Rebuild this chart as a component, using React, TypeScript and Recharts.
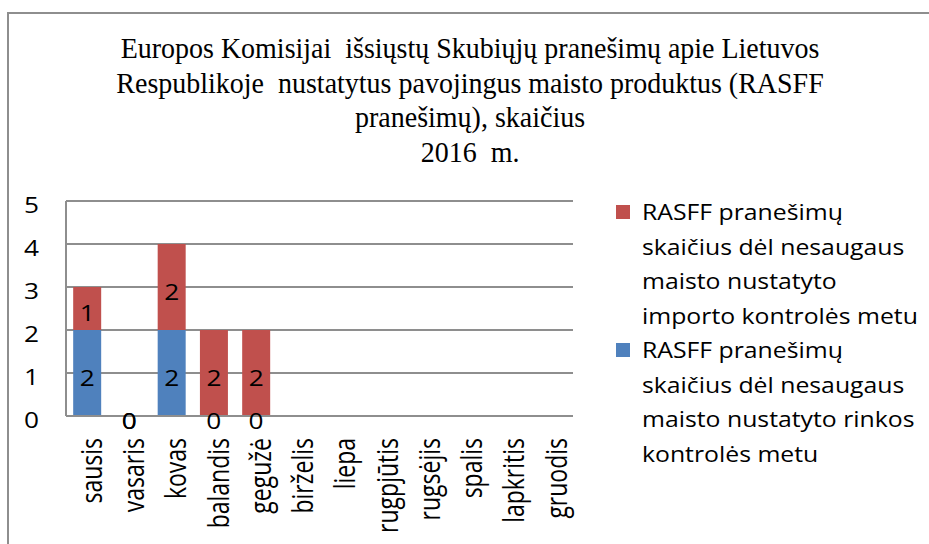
import { ComposedChart, Bar, Line, XAxis, YAxis, CartesianGrid, Legend, LabelList } from 'recharts';

const months = ['sausis', 'vasaris', 'kovas', 'balandis', 'gegužė', 'birželis', 'liepa', 'rugpjūtis', 'rugsėjis', 'spalis', 'lapkritis', 'gruodis'];
const rinkos = [2, 0, 2, 0, 0, null, null, null, null, null, null, null];
const importo = [1, 0, 2, 2, 2, null, null, null, null, null, null, null];
const yTicks = [0, 1, 2, 3, 4, 5];

const titleLines = [
    'Europos Komisijai  išsiųstų Skubiųjų pranešimų apie Lietuvos',
    'Respublikoje  nustatytus pavojingus maisto produktus (RASFF',
    'pranešimų), skaičius',
    '2016  m.',
];

const rinkosName = 'RASFF pranešimų skaičius dėl nesaugaus maisto nustatyto rinkos kontrolės metu';
const importoName = 'RASFF pranešimų skaičius dėl nesaugaus maisto nustatyto importo kontrolės metu';

const legendLines: Record<string, string[]> = {
    [importoName]: ['RASFF pranešimų', 'skaičius dėl nesaugaus', 'maisto nustatyto', 'importo kontrolės metu'],
    [rinkosName]: ['RASFF pranešimų', 'skaičius dėl nesaugaus', 'maisto nustatyto rinkos', 'kontrolės metu'],
};

// zero values have no bar height, so their "0" labels ride on hidden lines
const data = months.map((m, i) => ({
    month: m,
    rinkos: rinkos[i],
    importo: importo[i],
    rinkosZero: rinkos[i] === 0 ? 0 : null,
    importoZero: importo[i] === 0 ? 0 : null,
}));

const FONT = '"Open Sans", sans-serif';
const GRID = '#8e8e8e';

const valueText = (cx: number, cy: number, value: any) => (
    <text
        transform={`translate(${cx},${cy + 5}) scale(1.25,1)`}
        textAnchor="middle"
        dominantBaseline="central"
        fontSize={21}
        fontFamily={FONT}
        fill="#000"
    >
        {value}
    </text>
);

const renderLabel = (props: any) => {
    const { x, y, width, height, value } = props;
    if (value === null || value === undefined || value === 0) return null;
    return valueText(x + width / 2, y + height / 2, value);
};

const renderZero = (props: any) => {
    const { x, y, value } = props;
    if (value === null || value === undefined) return null;
    return valueText(x, y, value);
};

const MonthTick = (props: any) => {
    const { x, y, payload } = props;
    return (
        <text
            transform={`translate(${x + 3},${y}) scale(1.3,1) rotate(-90)`}
            textAnchor="end"
            dominantBaseline="central"
            fontSize={23}
            fontFamily={FONT}
            fill="#000"
        >
            {payload.value}
        </text>
    );
};

const ValueTick = (props: any) => {
    const { x, y, payload } = props;
    return (
        <text
            transform={`translate(${x},${y + 4}) scale(1.25,1)`}
            textAnchor="end"
            dominantBaseline="central"
            fontSize={21}
            fontFamily={FONT}
            fill="#000"
        >
            {payload.value}
        </text>
    );
};

const renderLegend = (props: any) => {
    const items = (props.payload || []).filter((it: any) => legendLines[it.value]);
    return (
        <div style={{ fontFamily: FONT, fontSize: 21, color: '#000' }}>
            {items.map((it: any) => (
                <div key={it.value} style={{ position: 'relative', paddingLeft: 26 }}>
                    <span
                        style={{
                            position: 'absolute',
                            left: 0,
                            top: 10,
                            width: 14,
                            height: 14,
                            background: it.color,
                        }}
                    />
                    <div style={{ transform: 'scaleX(1.18)', transformOrigin: 'left' }}>
                        {legendLines[it.value].map((l) => (
                            <div key={l} style={{ height: 34.5, lineHeight: '34.5px', whiteSpace: 'nowrap' }}>
                                {l}
                            </div>
                        ))}
                    </div>
                </div>
            ))}
        </div>
    );
};

export default function App() {
    return (
        <div style={{ position: 'absolute', left: 0, top: 0, width: 929, height: 544, overflow: 'hidden', background: '#fff' }}>
            <div
                style={{
                    position: 'absolute',
                    left: 7,
                    top: 12,
                    width: 940,
                    height: 560,
                    borderTop: `2px solid ${GRID}`,
                    borderLeft: `2px solid ${GRID}`,
                }}
            />
            <div
                style={{
                    position: 'absolute',
                    left: 0,
                    top: 31,
                    width: 940,
                    textAlign: 'center',
                    fontFamily: '"Liberation Serif", serif',
                    fontSize: 29,
                    color: '#000',
                    transform: 'scaleX(0.965)',
                    transformOrigin: '471px 0',
                }}
            >
                {titleLines.map((l) => (
                    <div key={l} style={{ height: 34.5, lineHeight: '34.5px', whiteSpace: 'pre' }}>
                        {l}
                    </div>
                ))}
            </div>
            <div style={{ position: 'absolute', left: 0, top: 0 }}>
                <ComposedChart
                    width={929}
                    height={544}
                    data={data}
                    barCategoryGap="17%"
                    margin={{ top: 201, right: 46, bottom: 0, left: 0 }}
                >
                    <CartesianGrid vertical={false} stroke={GRID} strokeWidth={2} />
                    <XAxis
                        dataKey="month"
                        interval={0}
                        height={128}
                        tickLine={false}
                        axisLine={{ stroke: GRID, strokeWidth: 2 }}
                        tick={<MonthTick />}
                        tickSize={0}
                        tickMargin={22}
                    />
                    <YAxis
                        domain={[0, 5]}
                        ticks={yTicks}
                        width={66}
                        tickLine={false}
                        axisLine={{ stroke: GRID, strokeWidth: 2 }}
                        tickSize={0}
                        tickMargin={27}
                        tick={<ValueTick />}
                    />
                    <Legend
                        layout="vertical"
                        verticalAlign="top"
                        align="right"
                        content={renderLegend}
                        wrapperStyle={{ position: 'absolute', left: 616, top: 195, width: 310 }}
                    />
                    <Bar dataKey="rinkos" name={rinkosName} stackId="a" fill="#4F81BD" isAnimationActive={false}>
                        <LabelList dataKey="rinkos" content={renderLabel} />
                    </Bar>
                    <Bar dataKey="importo" name={importoName} stackId="a" fill="#C0504D" isAnimationActive={false}>
                        <LabelList dataKey="importo" content={renderLabel} />
                    </Bar>
                    <Line dataKey="rinkosZero" stroke="none" dot={false} activeDot={false} legendType="none" isAnimationActive={false}>
                        <LabelList dataKey="rinkosZero" content={renderZero} />
                    </Line>
                    <Line dataKey="importoZero" stroke="none" dot={false} activeDot={false} legendType="none" isAnimationActive={false}>
                        <LabelList dataKey="importoZero" content={renderZero} />
                    </Line>
                </ComposedChart>
            </div>
        </div>
    );
}
